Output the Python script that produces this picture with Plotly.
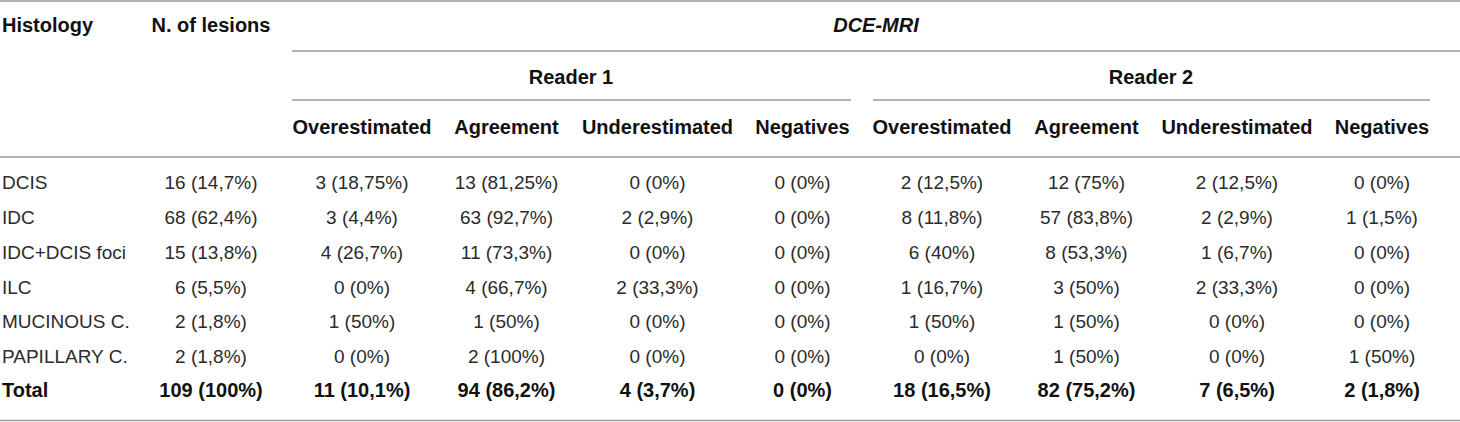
import plotly.graph_objects as go

# ---- table content -------------------------------------------------------
histology = ["DCIS", "IDC", "IDC+DCIS foci", "ILC", "MUCINOUS C.", "PAPILLARY C."]
lesions = ["16 (14,7%)", "68 (62,4%)", "15 (13,8%)", "6 (5,5%)", "2 (1,8%)", "2 (1,8%)"]

r1_over = ["3 (18,75%)", "3 (4,4%)", "4 (26,7%)", "0 (0%)", "1 (50%)", "0 (0%)"]
r1_agree = ["13 (81,25%)", "63 (92,7%)", "11 (73,3%)", "4 (66,7%)", "1 (50%)", "2 (100%)"]
r1_under = ["0 (0%)", "2 (2,9%)", "0 (0%)", "2 (33,3%)", "0 (0%)", "0 (0%)"]
r1_neg = ["0 (0%)", "0 (0%)", "0 (0%)", "0 (0%)", "0 (0%)", "0 (0%)"]

r2_over = ["2 (12,5%)", "8 (11,8%)", "6 (40%)", "1 (16,7%)", "1 (50%)", "0 (0%)"]
r2_agree = ["12 (75%)", "57 (83,8%)", "8 (53,3%)", "3 (50%)", "1 (50%)", "1 (50%)"]
r2_under = ["2 (12,5%)", "2 (2,9%)", "1 (6,7%)", "2 (33,3%)", "0 (0%)", "0 (0%)"]
r2_neg = ["0 (0%)", "1 (1,5%)", "0 (0%)", "0 (0%)", "0 (0%)", "1 (50%)"]

total_row = ["Total", "109 (100%)",
             "11 (10,1%)", "94 (86,2%)", "4 (3,7%)", "0 (0%)",
             "18 (16,5%)", "82 (75,2%)", "7 (6,5%)", "2 (1,8%)"]

sub_headers = ["Overestimated", "Agreement", "Underestimated", "Negatives"]
readers = ["Reader 1", "Reader 2"]
group_title = "DCE-MRI"

columns = [histology, lesions, r1_over, r1_agree, r1_under, r1_neg,
           r2_over, r2_agree, r2_under, r2_neg]

# ---- layout (pixel grid) -------------------------------------------------
W, H = 1460, 422
col_x = [2, 211, 362, 506.5, 657.5, 802.5, 942, 1086.5, 1237, 1382]
row_y = [184.5, 219.5, 254.5, 289.5, 323.5, 358.5]
total_y = 391.5
head1_y, head2_y, head3_y = 27, 78.5, 128.5
reader_x = [571, 1151]
group_x = 876

FONT = "Liberation Sans, Arial, Helvetica, sans-serif"
BODY = dict(family=FONT, size=19, color="#2b2b2b")
BOLD = dict(family=FONT, size=20, color="#111111", weight="bold")
RULE = "#9a9a9a"

fig = go.Figure()


def text_trace(xs, ys, texts, font, left=False):
    fig.add_trace(go.Scatter(
        x=xs, y=ys, text=texts, mode="text",
        textposition="middle right" if left else "middle center",
        textfont=font, hoverinfo="skip", showlegend=False))


# body cells
for i, col in enumerate(columns):
    text_trace([col_x[i]] * len(col), row_y, col, BODY, left=(i == 0))

# total row
text_trace([col_x[0]], [total_y], total_row[:1], BOLD, left=True)
text_trace(col_x[1:], [total_y] * (len(total_row) - 1), total_row[1:], BOLD)

# headers
text_trace([col_x[0]], [head1_y], ["Histology"], BOLD, left=True)
text_trace([col_x[1]], [head1_y], ["N. of lesions"], BOLD)
text_trace([group_x], [head1_y], [group_title],
           dict(BOLD, style="italic"))
text_trace(reader_x, [head2_y] * 2, readers, BOLD)
text_trace(col_x[2:], [head3_y] * 8, sub_headers * 2, BOLD)

# horizontal rules
rules = [
    (0, W, 1, 1.6),
    (292, W, 51, 1.3),
    (292, 851, 100, 1.3),
    (873, 1430, 100, 1.3),
    (0, W, 157, 1.3),
    (0, W, 420.5, 1.6),
]
for x0, x1, y, w in rules:
    fig.add_shape(type="line", x0=x0, x1=x1, y0=y, y1=y,
                  xref="x", yref="y", line=dict(color=RULE, width=w))

fig.update_layout(
    width=W, height=H,
    margin=dict(l=0, r=0, t=0, b=0),
    paper_bgcolor="white", plot_bgcolor="white",
    hovermode=False,
    xaxis=dict(range=[0, W], visible=False, fixedrange=True),
    yaxis=dict(range=[H, 0], visible=False, fixedrange=True),
)

# page body has a default 8px margin; drop it so the table sits at the corner
fig.write_html("out.html", config={"displayModeBar": False},
               post_script="document.body.style.margin='0';")
